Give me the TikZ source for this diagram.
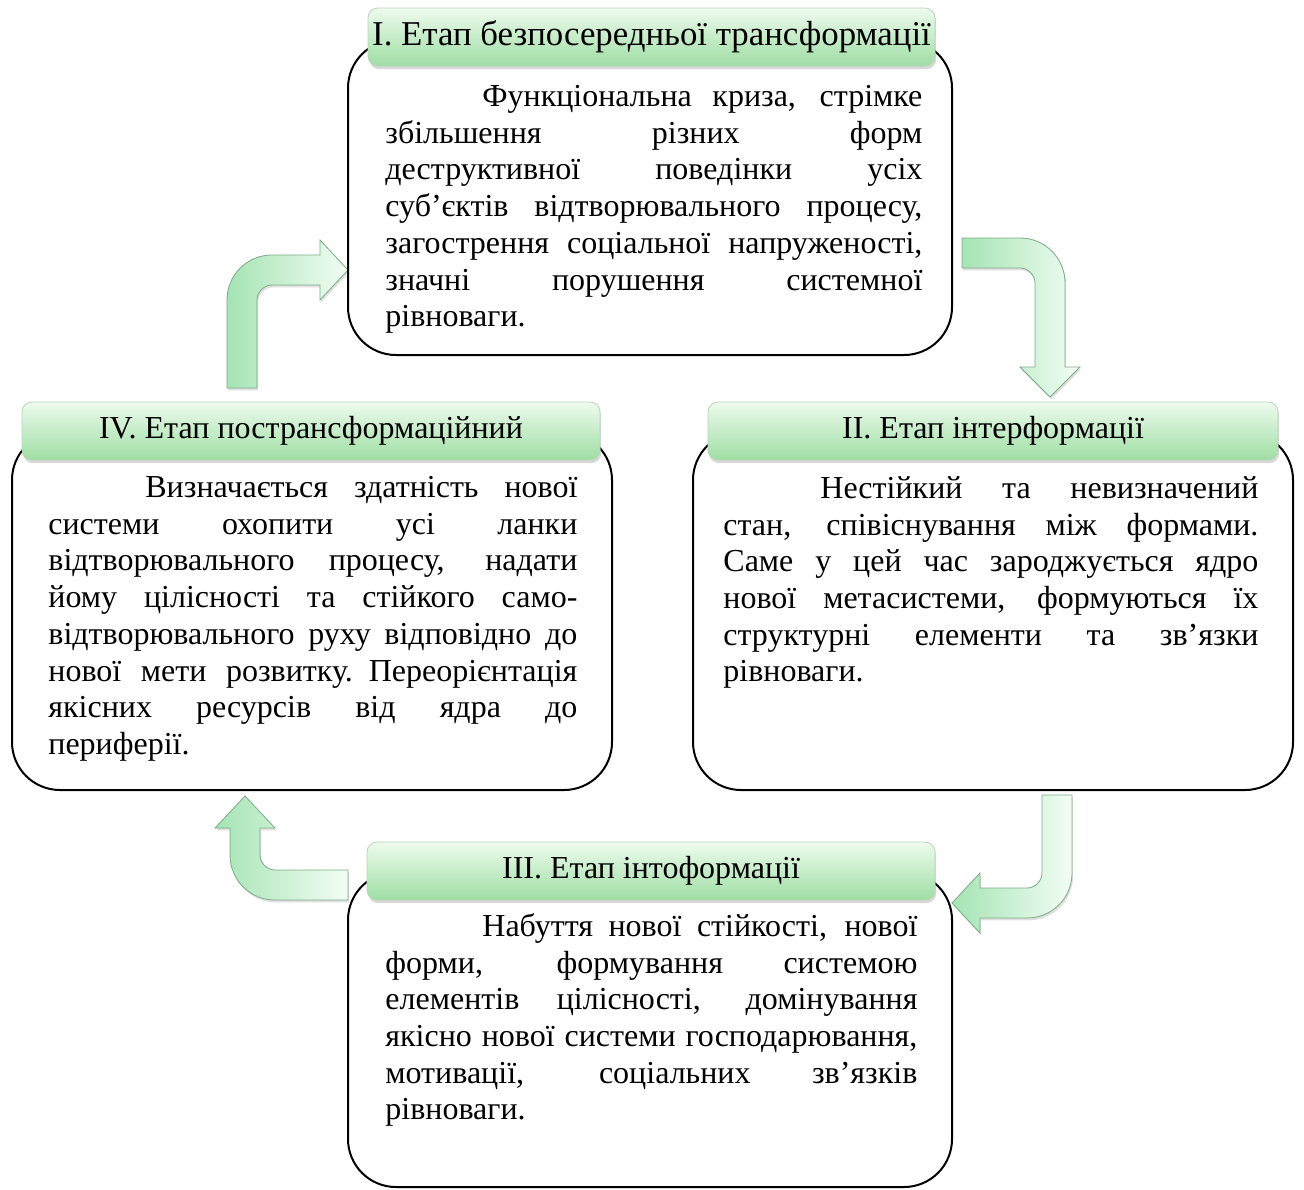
\documentclass[tikz,border=0pt]{standalone}
\usepackage{fontspec}
\setmainfont{Liberation Serif}
\usetikzlibrary{shadows}

\definecolor{headtop}{RGB}{238,251,238}
\definecolor{headbot}{RGB}{158,222,163}
\definecolor{headedge}{RGB}{185,212,187}
\definecolor{arrowgreen}{RGB}{165,228,180}
\definecolor{arrowlight}{RGB}{242,253,244}
\definecolor{arrowedge}{RGB}{125,170,135}

\newlength{\bodyw}
\newcommand{\fline}[1]{\hbox to \bodyw{\spaceskip=0.25em plus 1fil\relax #1}}
\newcommand{\firstline}[1]{\hbox to \bodyw{\spaceskip=0.25em plus 1fil\relax \hspace*{48.5pt}#1}}

\begin{document}
\begin{tikzpicture}[
		x = 0.5pt, y = -0.5pt,
		stagebox/.style = {
			draw,
			rectangle,
			fill = white,
			line width = 1pt,
			rounded corners = 24pt,
			inner sep = 0
		},
		stagehead/.style = {
			draw = headedge,
			rectangle,
			line width = 0.4pt,
			rounded corners = 5pt,
			top color = headtop,
			bottom color = headbot,
			drop shadow = {shadow xshift = 0.6pt, shadow yshift = -1.6pt, opacity = 0.3},
			inner sep = 0,
			minimum height = 29pt,
			font = \fontsize{16}{18.35}\selectfont
		},
		bodytext/.style = {
			anchor = north west,
			inner sep = 0,
			align = left,
			text width = #1,
			execute at begin node = {\setlength{\bodyw}{#1}},
			font = \fontsize{16}{18.35}\selectfont
		},
		bentarrow/.style = {
			draw = arrowedge,
			line width = 0.4pt,
			left color = arrowgreen,
			right color = arrowlight,
			drop shadow = {shadow xshift = 0.6pt, shadow yshift = -1.2pt, opacity = 0.25}
		}
	]
	\useasboundingbox (0, 0) rectangle (1304, 1189);

	% bent arrows between the stages
	\path [bentarrow] (227, 388) -- (227, 300) .. controls (227, 275) and (247, 255) .. (272, 255)
		-- (320, 255) -- (320, 240) -- (348, 270) -- (320, 300) -- (320, 285) -- (272, 285)
		.. controls (264, 285) and (257, 292) .. (257, 300) -- (257, 388) -- cycle;
	\path [bentarrow] (962, 238) -- (1020, 238) .. controls (1045, 238) and (1065, 258) .. (1065, 283)
		-- (1065, 367) -- (1080, 367) -- (1050, 397) -- (1020, 367) -- (1035, 367) -- (1035, 283)
		.. controls (1035, 275) and (1028, 268) .. (1020, 268) -- (962, 268) -- cycle;
	\path [bentarrow] (1042, 795) -- (1072, 795) -- (1072, 873) .. controls (1072, 898) and (1052, 918) .. (1027, 918)
		-- (980, 918) -- (980, 933) -- (952, 903) -- (980, 873) -- (980, 888) -- (1027, 888)
		.. controls (1035, 888) and (1042, 881) .. (1042, 873) -- cycle;
	\path [bentarrow] (348, 870) -- (275, 870) .. controls (267, 870) and (260, 863) .. (260, 855)
		-- (260, 828) -- (275, 828) -- (245, 796) -- (215, 828) -- (230, 828) -- (230, 855)
		.. controls (230, 880) and (250, 900) .. (275, 900) -- (348, 900) -- cycle;

	% stage boxes
	\node [stagebox, minimum width = 302pt, minimum height = 157.5pt] (stageI) at (650, 197.5) {};
	\node [stagebox, minimum width = 300pt, minimum height = 179pt] (stageII) at (993, 611) {};
	\node [stagebox, minimum width = 302pt, minimum height = 157.5pt] (stageIII) at (650, 1029.5) {};
	\node [stagebox, minimum width = 300pt, minimum height = 179pt] (stageIV) at (312, 611) {};

	% stage titles
	\node [stagehead, minimum width = 283.5pt, font = \fontsize{17.4}{19}\selectfont] (headI) at (651.5, 37) {I. Етап безпосередньої трансформації};
	\node [stagehead, minimum width = 285pt] (headII) at (993, 431) {II. Етап інтерформації};
	\node [stagehead, minimum width = 284pt] (headIII) at (651, 871) {III. Етап інтоформації};
	\node [stagehead, minimum width = 289pt] (headIV) at (311, 431) {IV. Етап пострансформаційний};

	% stage texts
	\node [bodytext = 268.5pt] (textI) at (385, 85) {%
		\firstline{Функціональна криза, стрімке}
		\fline{збільшення різних форм}
		\fline{деструктивної поведінки усіх}
		\fline{суб’єктів відтворювального процесу,}
		\fline{загострення соціальної напруженості,}
		\fline{значні порушення системної}
		рівноваги.};
	\node [bodytext = 267.5pt] (textII) at (723, 476) {%
		\firstline{Нестійкий та невизначений}
		\fline{стан, співіснування між формами.}
		\fline{Саме у цей час зароджується ядро}
		\fline{нової метасистеми, формуються їх}
		\fline{структурні елементи та зв’язки}
		рівноваги.};
	\node [bodytext = 266pt] (textIII) at (385, 913) {%
		\firstline{Набуття нової стійкості, нової}
		\fline{форми, формування системою}
		\fline{елементів цілісності, домінування}
		\fline{якісно нової системи господарювання,}
		\fline{мотивації, соціальних зв’язків}
		рівноваги.};
	\node [bodytext = 264.5pt] (textIV) at (48, 476) {%
		\firstline{Визначається здатність нової}
		\fline{системи охопити усі ланки}
		\fline{відтворювального процесу, надати}
		\fline{йому цілісності та стійкого само-}
		\fline{відтворювального руху відповідно до}
		\fline{нової мети розвитку. Переорієнтація}
		\fline{якісних ресурсів від ядра до}
		периферії.};
\end{tikzpicture}
\end{document}
